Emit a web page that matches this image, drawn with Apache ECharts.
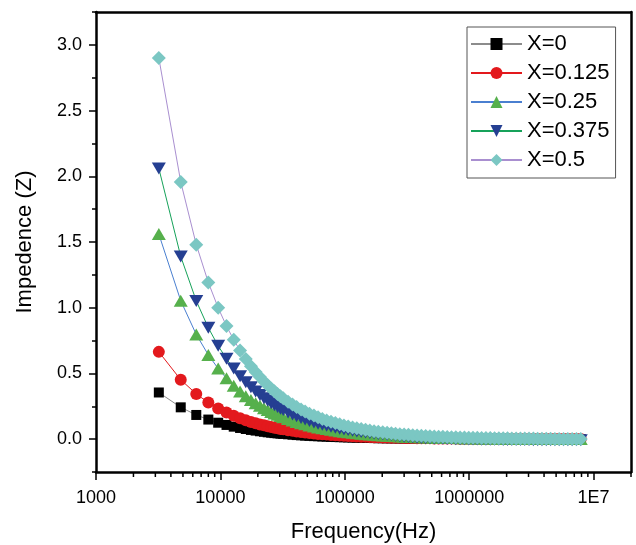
<!DOCTYPE html>
<html><head><meta charset="utf-8">
<script src="https://cdn.jsdelivr.net/npm/echarts/dist/echarts.min.js"></script>
<style>html,body{margin:0;padding:0;background:#fff}#c{width:636px;height:545px}</style>
</head><body><div id="c"></div>
<script>
// Frequencies (Hz)
const freq = [3200,4800,6400,8000,9600,11200,12800,14400,16000,17600,19200,20800,22400,24000,25600,27200,28800,30400,32000,
35000,38000,41000,44500,48000,52000,56500,61000,66000,71500,77500,84000,91000,98500,106500,115500,125000,135500,147000,159000,172000,186000,202000,219000,237000,256000,277000,300000,325000,352000,381000,413000,447000,484000,524000,568000,615000,666000,721000,781000,846000,916000,992000,
1074000,1163000,1260000,1364000,1477000,1600000,1733000,1877000,2033000,2202000,2385000,2583000,2797000,3029000,3281000,3553000,3848000,4168000,4514000,4889000,5295000,5735000,6211000,6727000,7285000,7890000];

const seriesNames = ['X=0','X=0.125','X=0.25','X=0.375','X=0.5'];

const zX0 = [0.355,0.242,0.184,0.149,0.125,0.108,0.095,0.085,0.077,0.070,0.065,0.060,0.056,0.052,0.049,0.046,0.044,0.042,0.040,
0.037,0.034,0.031,0.029,0.027,0.025,0.023,0.022,0.020,0.019,0.017,0.016,0.015,0.014,0.013,0.012,0.011,0.010,0.009,0.009,0.008,0.007,0.007,0.006,0.006,0.006,0.005,0.005,0.004,0.004,0.004,0.004,0.003,0.003,0.003,0.003,0.002,0.002,0.002,0.002,0.002,0.002,0.002,
0.002,0.002,0.002,0.002,0.001,0.001,0.001,0.001,0.001,0.001,0.001,0.001,0.001,0.001,0.001,0.001,0.001,0.001,0.000,0.000,0.000,0.000,0.000,0.000,0.000,0.000];

const zX0125 = [0.664,0.452,0.344,0.278,0.234,0.202,0.178,0.159,0.144,0.131,0.121,0.112,0.105,0.098,0.092,0.087,0.082,0.078,0.075,
0.068,0.063,0.059,0.054,0.051,0.047,0.043,0.040,0.037,0.035,0.032,0.030,0.028,0.026,0.024,0.022,0.020,0.019,0.018,0.016,0.015,0.014,0.013,0.012,0.011,0.010,0.010,0.009,0.008,0.008,0.007,0.007,0.006,0.006,0.005,0.005,0.004,0.004,0.004,0.004,0.003,0.003,0.003,
0.003,0.003,0.002,0.002,0.002,0.002,0.002,0.002,0.002,0.002,0.001,0.001,0.001,0.001,0.001,0.001,0.001,0.001,0.001,0.001,0.001,0.001,0.001,0.001,0.001,0.001];

const zX025 = [1.560,1.053,0.796,0.641,0.537,0.463,0.407,0.363,0.327,0.298,0.274,0.254,0.236,0.221,0.207,0.196,0.185,0.176,0.167,
0.153,0.141,0.131,0.121,0.113,0.104,0.096,0.089,0.083,0.077,0.071,0.066,0.061,0.056,0.052,0.048,0.045,0.041,0.038,0.035,0.033,0.030,0.028,0.026,0.024,0.022,0.021,0.019,0.018,0.016,0.015,0.014,0.013,0.012,0.011,0.010,0.010,0.009,0.008,0.008,0.007,0.006,0.006,
0.006,0.005,0.005,0.004,0.004,0.004,0.003,0.003,0.003,0.003,0.003,0.002,0.002,0.002,0.002,0.002,0.002,0.001,0.001,0.001,0.001,0.001,0.001,0.001,0.001,0.001];

const zX0375 = [2.060,1.390,1.052,0.847,0.710,0.611,0.537,0.479,0.432,0.394,0.362,0.335,0.312,0.292,0.274,0.258,0.245,0.232,0.221,
0.202,0.187,0.174,0.160,0.149,0.138,0.127,0.118,0.109,0.101,0.094,0.087,0.080,0.074,0.069,0.064,0.059,0.054,0.050,0.047,0.043,0.040,0.037,0.034,0.032,
0.025,0.022,0.019,0.016,0.014,0.010,0.008,0.007,0.006,0.005,0.004,0.003,0.002,0.001,0.000,-0.001,-0.001,-0.002,
-0.003,-0.003,-0.004,-0.004,-0.005,-0.005,-0.005,-0.006,-0.006,-0.006,-0.007,-0.007,-0.007,-0.007,-0.008,-0.008,-0.008,-0.008,-0.008,-0.008,-0.008,-0.009,-0.009,-0.009,-0.009,-0.009];

const zX05 = [2.900,1.957,1.480,1.192,0.999,0.860,0.756,0.674,0.609,0.555,0.510,0.472,0.439,0.411,0.386,0.364,0.344,0.327,0.311,
0.285,0.263,0.244,0.226,0.210,0.194,0.179,0.166,0.154,0.142,0.132,0.122,0.113,0.104,0.097,0.089,0.083,0.077,0.071,0.066,0.061,0.056,0.052,0.048,0.045,0.041,0.038,0.035,0.033,0.030,0.028,0.026,0.024,0.022,0.021,0.019,0.018,0.016,0.015,0.014,0.013,0.012,0.011,
0.010,0.010,0.009,0.008,0.008,0.007,0.006,0.006,0.006,0.005,0.005,0.004,0.004,0.004,0.004,0.003,0.003,0.003,0.003,0.002,0.002,0.002,0.002,0.002,0.002,0.002];

const xTickLabels = ['1000','10000','100000','1000000','1E7'];
const xMinorTicks = [2000,3000,4000,5000,6000,7000,8000,9000,
20000,30000,40000,50000,60000,70000,80000,90000,
200000,300000,400000,500000,600000,700000,800000,900000,
2000000,3000000,4000000,5000000,6000000,7000000,8000000,9000000,20000000];
const yTickLabels = ['0.0','0.5','1.0','1.5','2.0','2.5','3.0'];

const FONT = '"Liberation Sans", Arial, sans-serif';
const X_MIN = 1000, X_MAX = 20000000;
const Y_MIN = -0.25, Y_MAX = 3.25;
const G = {left: 96, top: 12, width: 535, height: 460};
const botOff = G.height * (0 - Y_MIN) / (Y_MAX - Y_MIN);   // px from bottom to y=0
const topOff = G.height * (Y_MAX - 3) / (Y_MAX - Y_MIN);   // px from top to y=3

const styles = [
  {symbol: 'rect', size: 10, rot: 0, fill: '#000000', line: '#8c8c8c'},
  {symbol: 'circle', size: 12, rot: 0, fill: '#e3191d', line: '#e3191d'},
  {symbol: 'triangle', size: [14, 12], rot: 0, fill: '#56b04c', line: '#4a7fd0'},
  {symbol: 'triangle', size: [14, 12], rot: 180, fill: '#253f92', line: '#16a25a'},
  {symbol: 'diamond', size: 14, rot: 0, fill: '#7bc7c3', line: '#a98fd0'}
];
const values = [zX0, zX0125, zX025, zX0375, zX05];

const chart = echarts.init(document.getElementById('c'), null, {renderer: 'canvas'});
const lineSeries = seriesNames.map((name, k) => ({
  name: name,
  type: 'line',
  xAxisIndex: 0, yAxisIndex: 0,
  data: freq.map((f, i) => [f, values[k][i]]),
  symbol: styles[k].symbol,
  symbolSize: styles[k].size,
  symbolRotate: styles[k].rot,
  showSymbol: true,
  itemStyle: {color: styles[k].fill},
  lineStyle: {color: styles[k].line, width: 1},
  emphasis: {disabled: true},
  z: 3 + k
}));

function decadeLabel(v) {
  const e = Math.log10(v);
  const r = Math.round(e);
  if (Math.abs(e - r) > 1e-6) return '';
  return xTickLabels[r - 3] || '';
}

const AXW = 2.5;
const option = {
  animation: false,
  backgroundColor: '#ffffff',
  textStyle: {fontFamily: FONT},
  grid: [
    {left: G.left, top: G.top, width: G.width, height: G.height, containLabel: false, outerBoundsMode: 'none'},
    {left: G.left, top: G.top + topOff, width: G.width, height: G.height - topOff - botOff, containLabel: false, outerBoundsMode: 'none'}
  ],
  legend: {
    data: seriesNames,
    orient: 'vertical',
    left: 467, top: 27,
    padding: [6, 6, 7, 3],
    itemWidth: 51, itemHeight: 15, itemGap: 7,
    backgroundColor: '#ffffff',
    borderColor: '#555555', borderWidth: 1, borderRadius: 0,
    textStyle: {fontFamily: FONT, fontSize: 22, color: '#000', lineHeight: 22, padding: [0, 0, 0, 0]},
    selectedMode: false
  },
  xAxis: [
    {
      type: 'log', logBase: 10, min: X_MIN, max: X_MAX, gridIndex: 0,
      name: 'Frequency(Hz)', nameLocation: 'middle', nameGap: 49,
      nameTextStyle: {fontFamily: FONT, fontSize: 22, color: '#000'},
      axisLine: {show: true, onZero: false, lineStyle: {color: '#000', width: AXW}},
      axisTick: {show: true, length: 8, lineStyle: {color: '#000', width: 1.5}},
      axisLabel: {fontFamily: FONT, fontSize: 18, color: '#000', margin: 17, formatter: decadeLabel,
        showMinLabel: true, showMaxLabel: false},
      splitLine: {show: false}
    },
    {
      type: 'log', logBase: 10, min: X_MIN, max: X_MAX, gridIndex: 0, position: 'top',
      axisLine: {show: true, onZero: false, lineStyle: {color: '#000', width: AXW}},
      axisTick: {show: false}, axisLabel: {show: false}, splitLine: {show: false}
    },
    {
      type: 'log', logBase: 10, min: X_MIN, max: X_MAX, gridIndex: 1, show: false
    }
  ],
  yAxis: [
    {
      type: 'value', min: Y_MIN, max: Y_MAX, interval: 0.25, gridIndex: 0,
      axisLine: {show: true, onZero: false, lineStyle: {color: '#000', width: AXW}},
      axisTick: {show: true, length: 4, lineStyle: {color: '#000', width: 1.5}},
      axisLabel: {show: false}, splitLine: {show: false}
    },
    {
      type: 'value', min: Y_MIN, max: Y_MAX, gridIndex: 0, position: 'right',
      axisLine: {show: true, onZero: false, lineStyle: {color: '#000', width: AXW}},
      axisTick: {show: false}, axisLabel: {show: false}, splitLine: {show: false}
    },
    {
      type: 'value', min: 0, max: 3, interval: 0.5, gridIndex: 1,
      name: 'Impedence (Z)', nameLocation: 'middle', nameGap: 60,
      nameTextStyle: {fontFamily: FONT, fontSize: 22, color: '#000'},
      axisLine: {show: false, onZero: false},
      axisTick: {show: true, length: 7, lineStyle: {color: '#000', width: 1.5}},
      axisLabel: {fontFamily: FONT, fontSize: 18, color: '#000', margin: 14,
        formatter: (v) => yTickLabels[Math.round(v / 0.5)]},
      splitLine: {show: false}
    }
  ],
  series: lineSeries.concat([{
    type: 'custom',
    name: 'minorTicks',
    xAxisIndex: 0, yAxisIndex: 0,
    clip: false, silent: true, z: 10,
    data: xMinorTicks.map(v => [v, Y_MIN]),
    renderItem: (params, api) => {
      const p = api.coord([api.value(0), api.value(1)]);
      return {type: 'line', shape: {x1: p[0], y1: p[1], x2: p[0], y2: p[1] + 5},
        style: {stroke: '#000', lineWidth: 1.5}};
    }
  }])
};
chart.setOption(option);
</script>
</body></html>
